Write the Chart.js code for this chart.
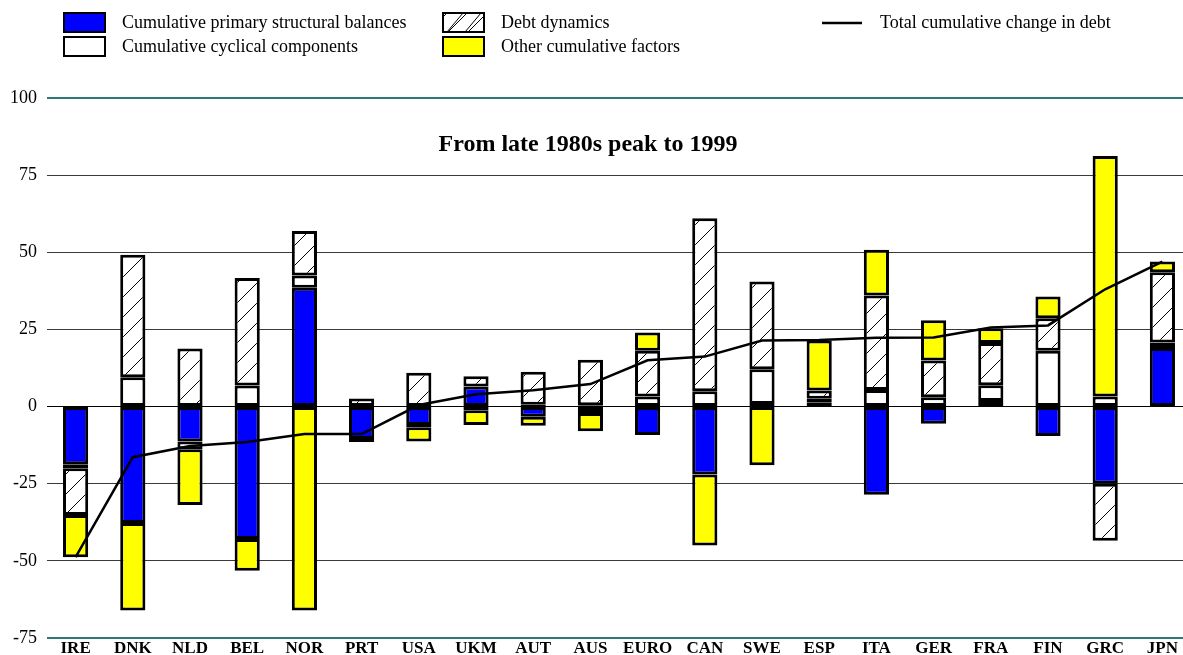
<!DOCTYPE html>
<html>
<head>
<meta charset="utf-8">
<script src="https://cdn.jsdelivr.net/npm/chart.js@4/dist/chart.umd.min.js"></script>
<style>
  html, body { margin: 0; padding: 0; background: #fff; overflow: hidden; }
  .chart__wrapper { width: 1183px; height: 655px; overflow: hidden; }
</style>
</head>
<body>
<div class="chart__wrapper">
  <canvas id="debt-chart" width="1191" height="655"></canvas>
</div>
<script>
const categories = ["IRE", "DNK", "NLD", "BEL", "NOR", "PRT", "USA", "UKM", "AUT", "AUS",
  "EURO", "CAN", "SWE", "ESP", "ITA", "GER", "FRA", "FIN", "GRC", "JPN"];

const structuralBalances = [-18.7, -37.7, -11.3, -42.9, 38.5, -10.5, -6.0, 6.5, -3.3, -2.1,
  -9.2, -22.0, 0.8, 1.2, -28.6, -5.6, 1.8, -9.5, -25.0, 19.0];
const cyclicalComponents = [-1.3, 9.5, -2.5, 6.8, 4.0, -1.0, -0.7, -1.2, 0.6, 0.4,
  3.3, 5.0, 11.3, 1.3, 5.4, 3.0, 5.1, 18.1, 3.3, 1.8];
const debtDynamics = [-15.1, 39.7, 18.8, 34.9, 14.4, 2.6, 11.0, 3.3, 10.7, 14.8,
  14.8, 56.0, 28.4, 2.7, 30.6, 11.9, 13.7, 10.5, -18.5, 22.7];
const otherFactors = [-13.7, -28.4, -18.1, -10.3, -66.1, 0, -4.6, -4.8, -2.9, -5.9,
  5.9, -23.0, -19.0, 16.2, 14.8, 13.1, 4.8, 7.1, 77.9, 3.5];
const totalChange = [-48.8, -16.4, -12.8, -11.5, -8.9, -8.9, 0.5, 4.0, 5.3, 7.3,
  15.0, 16.2, 21.4, 21.6, 22.3, 22.4, 25.6, 26.3, 38.0, 47.0];

const yTicks = [-75, -50, -25, 0, 25, 50, 75, 100];
const chartTitle = "From late 1980s peak to 1999";

const colors = {
  blue: "#0000ff",
  yellow: "#ffff00",
  white: "#ffffff",
  border: "#000000",
  teal: "#2f7878",
  grid: "#3a3a3a",
};

const serif = "'Liberation Serif', 'Times New Roman', serif";

// diagonal hatch for the debt dynamics series
function makeHatch() {
  const c = document.createElement("canvas");
  c.width = 20;
  c.height = 20;
  const g = c.getContext("2d");
  g.fillStyle = "#fff";
  g.fillRect(0, 0, 20, 20);
  g.strokeStyle = "#000";
  g.lineWidth = 1;
  g.beginPath();
  g.moveTo(-2, 22);
  g.lineTo(22, -2);
  g.stroke();
  return g.createPattern(c, "repeat");
}
const hatch = makeHatch();

const legendPlugin = {
  id: "customLegend",
  afterDraw(chart) {
    const ctx = chart.ctx;
    ctx.save();
    ctx.font = "18px " + serif;
    ctx.fillStyle = "#000";
    ctx.textBaseline = "middle";
    ctx.textAlign = "left";

    const box = (x, y, fill, label) => {
      ctx.fillStyle = fill;
      ctx.fillRect(x, y, 41, 19);
      if (fill === hatch) {
        ctx.strokeStyle = "#000";
        ctx.lineWidth = 1;
        ctx.beginPath();
        ctx.moveTo(x + 4, y + 19);
        ctx.lineTo(x + 20, y);
        ctx.moveTo(x + 22, y + 19);
        ctx.lineTo(x + 38, y);
        ctx.stroke();
      }
      ctx.strokeStyle = "#000";
      ctx.lineWidth = 2;
      ctx.strokeRect(x, y, 41, 19);
      ctx.fillStyle = "#000";
      ctx.fillText(label, x + 58, y + 10);
    };

    box(64, 13, colors.blue, "Cumulative primary structural balances");
    box(64, 37, colors.white, "Cumulative cyclical components");
    box(443, 13, hatch, "Debt dynamics");
    box(443, 37, colors.yellow, "Other cumulative factors");

    ctx.strokeStyle = "#000";
    ctx.lineWidth = 2.5;
    ctx.beginPath();
    ctx.moveTo(822, 23);
    ctx.lineTo(862, 23);
    ctx.stroke();
    ctx.fillText("Total cumulative change in debt", 880, 23);

    // title sits inside the plot area
    ctx.font = "bold 24px " + serif;
    ctx.textAlign = "center";
    ctx.textBaseline = "alphabetic";
    ctx.fillText(chartTitle, 588, 151);
    ctx.restore();
  },
};

function barSet(label, data, fill) {
  return {
    type: "bar",
    label,
    data,
    backgroundColor: fill,
    borderColor: colors.border,
    borderWidth: 3,
    borderSkipped: false,
    stack: "parts",
    order: 2,
    barPercentage: 0.44,
    categoryPercentage: 1,
  };
}

const ctx = document.getElementById("debt-chart").getContext("2d");
new Chart(ctx, {
  data: {
    labels: categories,
    datasets: [
      {
        type: "line",
        label: "Total cumulative change in debt",
        data: totalChange,
        borderColor: "#000",
        borderWidth: 2.5,
        pointRadius: 0,
        tension: 0,
        fill: false,
        stack: "total",
        order: 0,
      },
      barSet("Cumulative primary structural balances", structuralBalances, colors.blue),
      barSet("Cumulative cyclical components", cyclicalComponents, colors.white),
      barSet("Debt dynamics", debtDynamics, hatch),
      barSet("Other cumulative factors", otherFactors, colors.yellow),
    ],
  },
  options: {
    responsive: false,
    animation: false,
    layout: { padding: { top: 98, left: 0, right: 0, bottom: 0 } },
    scales: {
      x: {
        stacked: true,
        clip: false,
        grid: { display: false, drawTicks: false },
        border: { display: false },
        ticks: {
          color: "#000",
          font: { family: serif, size: 17, weight: "bold" },
          padding: 0,
          autoSkip: false,
          maxRotation: 0,
        },
        afterFit(scale) {
          scale.height = 17;
        },
      },
      y: {
        stacked: true,
        min: -75,
        max: 100,
        afterBuildTicks(scale) {
          scale.ticks = yTicks.map((v) => ({ value: v }));
        },
        grid: {
          drawTicks: false,
          color: (c) => {
            const v = c.tick && c.tick.value;
            if (v === 100 || v === -75) return colors.teal;
            if (v === 0) return "#000";
            return colors.grid;
          },
          lineWidth: (c) => {
            const v = c.tick && c.tick.value;
            return v === 100 || v === -75 ? 2 : 1;
          },
        },
        border: { display: false },
        ticks: {
          color: "#000",
          font: { family: serif, size: 18, lineHeight: 0.6 },
          padding: 10,
        },
        afterFit(scale) {
          scale.width = 47;
        },
      },
    },
    plugins: {
      legend: { display: false },
      title: { display: false },
      tooltip: { enabled: false },
    },
  },
  plugins: [legendPlugin],
});
</script>
</body>
</html>
